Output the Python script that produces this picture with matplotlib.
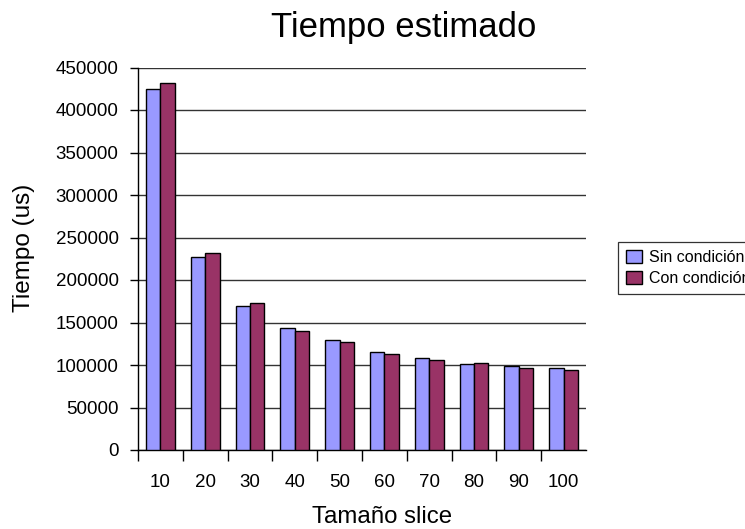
import matplotlib
matplotlib.use("Agg")
import matplotlib.pyplot as plt
import numpy as np

plt.rcParams['font.family'] = ['Liberation Sans', 'DejaVu Sans']

# slice sizes and measured times (us)
slice_sizes = ['10', '20', '30', '40', '50', '60', '70', '80', '90', '100']
sin_condicion = [425000, 227400, 169400, 143100, 129800, 115300, 108200, 101600, 99200, 96500]
con_condicion = [431400, 231400, 172900, 140000, 127000, 113300, 105900, 102400, 96500, 94500]
y_ticks = [0, 50000, 100000, 150000, 200000, 250000, 300000, 350000, 400000, 450000]

W, H = 745, 529
fig = plt.figure(figsize=(W / 100, H / 100), dpi=100)
ax = fig.add_axes([138 / W, (H - 450) / H, 448 / W, 382.5 / H])

x = np.arange(len(slice_sizes))
bw = 0.32
ax.bar(x - bw / 2, sin_condicion, bw, color='#9999FF', edgecolor='black',
       linewidth=1.0, label='Sin condición', zorder=3)
ax.bar(x + bw / 2, con_condicion, bw, color='#993366', edgecolor='black',
       linewidth=1.0, label='Con condición', zorder=3)

ax.set_xlim(-0.5, len(slice_sizes) - 0.5)
ax.set_ylim(0, 450000)
ax.set_yticks(y_ticks)
ax.set_yticklabels([str(v) for v in y_ticks])
ax.yaxis.grid(True, color='#333333', linewidth=1.0, zorder=0)
ax.set_axisbelow(True)

# labels at the centres, tick marks between the groups
ax.set_xticks(x)
ax.set_xticklabels(slice_sizes)
ax.set_xticks(np.arange(len(slice_sizes)) - 0.5, minor=True)
ax.tick_params(axis='x', which='major', length=0, pad=17, labelsize=13.5)
ax.tick_params(axis='x', which='minor', length=8, width=1.0, color='black', direction='out')
ax.tick_params(axis='y', length=6, width=1.0, color='black', pad=8, labelsize=13.5)

for side in ['top', 'right']:
    ax.spines[side].set_visible(False)
for side in ['left', 'bottom']:
    ax.spines[side].set_color('black')
    ax.spines[side].set_linewidth(1.0)

fig.text(404 / W, (H - 36.7) / H, 'Tiempo estimado', fontsize=25,
         ha='center', va='baseline')
fig.text(381.7 / W, (H - 523) / H, 'Tamaño slice', fontsize=17.3,
         ha='center', va='baseline')
fig.text(24 / W, (H - 248) / H, 'Tiempo (us)', fontsize=17.5,
         ha='center', va='center', rotation=90)

leg = fig.legend(loc='upper left', bbox_to_anchor=(618 / W, (H - 242) / H),
                 fontsize=11.5, frameon=True, fancybox=False, shadow=False,
                 borderpad=0.5, handlelength=1.0, handleheight=0.85,
                 handletextpad=0.45, labelspacing=0.38, borderaxespad=0)
leg.get_frame().set_edgecolor('black')
leg.get_frame().set_linewidth(0.9)

fig.savefig('out.png', dpi=100)
